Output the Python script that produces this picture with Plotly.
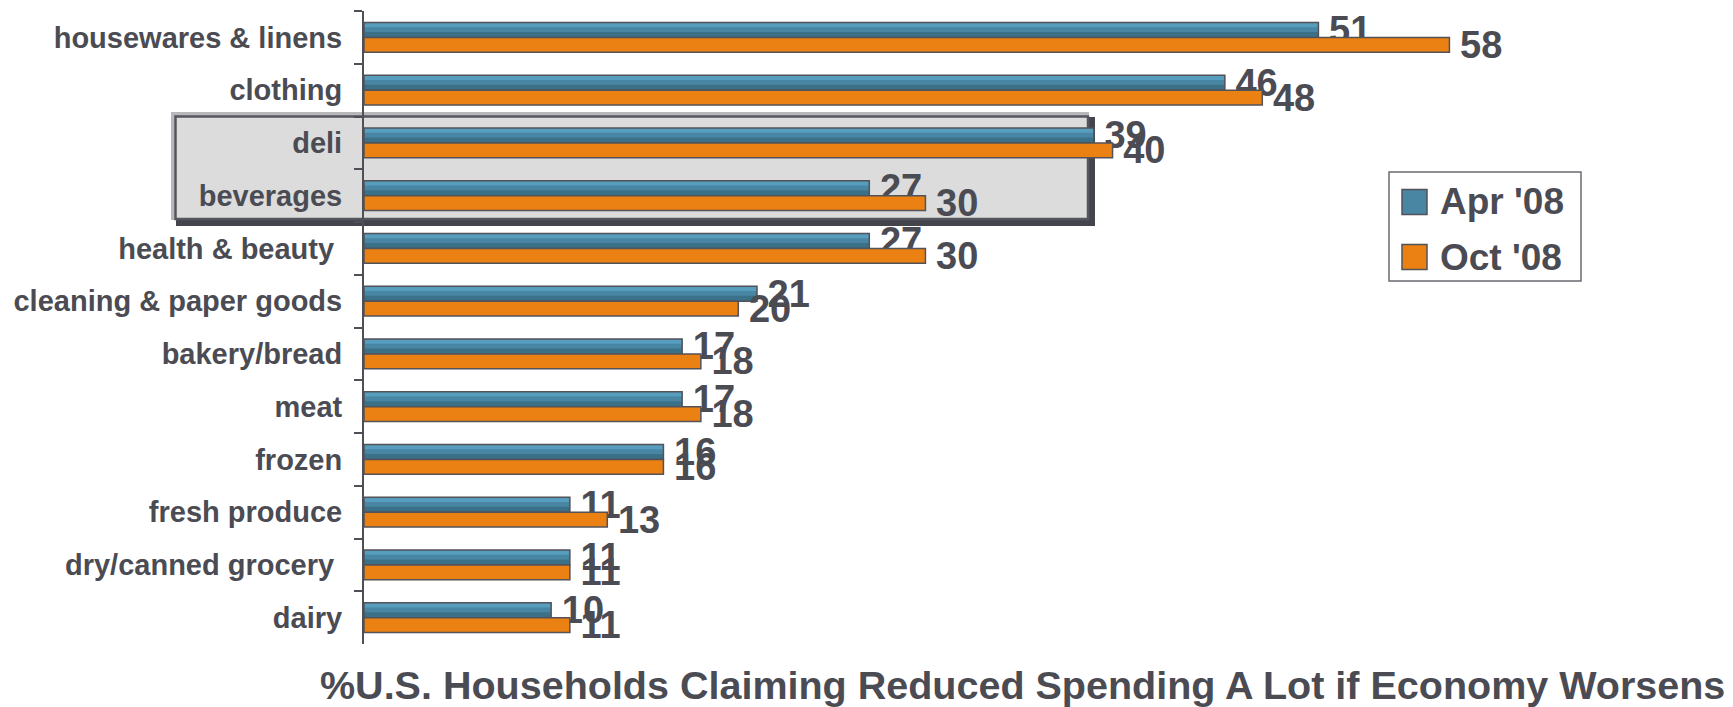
import plotly.graph_objects as go

# ---------------- data ----------------
categories = [
    "housewares & linens", "clothing", "deli", "beverages",
    "health & beauty\u00a0", "cleaning & paper goods", "bakery/bread", "meat",
    "frozen", "fresh produce", "dry/canned grocery\u00a0", "dairy",
]
series_names = ["Apr '08", "Oct '08"]
apr_08 = [51, 46, 39, 27, 27, 21, 17, 17, 16, 11, 11, 10]
oct_08 = [58, 48, 40, 30, 30, 20, 18, 18, 16, 13, 11, 11]
title_text = "%U.S. Households Claiming Reduced Spending A Lot if Economy Worsens"

# ---------------- styling ----------------
W, H = 1733, 707
L, T, PW, PH = 364, 11, 1310, 633
FONT = "Liberation Sans, Arial, sans-serif"
TXT = "#4b4b53"
OUTLINE = "#525259"
ORANGE = "#ec8113"
BLUE_DARK = "#3b7089"
BLUE_MID = "#4886a3"
BLUE_LIGHT = "#579dbe"
BW = 0.28  # bar thickness in category units


def xp(px):
    return (px - L) / PW


def yp(py):
    return (T + PH - py) / PH


fig = go.Figure()

common = dict(y=categories, orientation="h", hoverinfo="skip", showlegend=False)
label_font = dict(family=FONT, size=38, color=TXT, weight="bold")

# Apr '08 : banded to suggest the gradient
fig.add_trace(go.Bar(x=apr_08, offset=-BW, width=BW,
                     marker=dict(color=BLUE_DARK, line=dict(width=0)), **common))
fig.add_trace(go.Bar(x=apr_08, offset=-BW + 0.005, width=BW * 0.62,
                     marker=dict(color=BLUE_MID, line=dict(width=0)), **common))
fig.add_trace(go.Bar(x=apr_08, offset=-BW + 0.005, width=BW * 0.3,
                     marker=dict(color=BLUE_LIGHT, line=dict(width=0)), **common))
fig.add_trace(go.Bar(x=apr_08, offset=-BW, width=BW, name=series_names[0],
                     marker=dict(color="rgba(0,0,0,0)", line=dict(color=OUTLINE, width=1.5)),
                     texttemplate="\u2009%{x}", textposition="outside",
                     constraintext="none", cliponaxis=False,
                     textfont=label_font, **common))
# Oct '08
fig.add_trace(go.Bar(x=oct_08, offset=0, width=BW, name=series_names[1],
                     marker=dict(color=ORANGE, line=dict(color=OUTLINE, width=1.5)),
                     texttemplate="\u2009%{x}", textposition="outside",
                     constraintext="none", cliponaxis=False,
                     textfont=label_font, **common))

shapes = []
# highlight box around deli / beverages
shapes.append(dict(type="rect", xref="paper", yref="paper", layer="below",
                   x0=xp(176), x1=xp(1095), y0=yp(226), y1=yp(117),
                   fillcolor="#44444c", line=dict(width=0)))
shapes.append(dict(type="rect", xref="paper", yref="paper", layer="below",
                   x0=xp(171), x1=xp(1089), y0=yp(220), y1=yp(112),
                   fillcolor="#b8b8bc", line=dict(width=0)))
shapes.append(dict(type="rect", xref="paper", yref="paper", layer="below",
                   x0=xp(175.5), x1=xp(1088), y0=yp(219), y1=yp(116.5),
                   fillcolor="#dcdcdc", line=dict(color="#55555d", width=2.5)))

# custom legend
shapes.append(dict(type="rect", xref="paper", yref="paper",
                   x0=xp(1389), x1=xp(1581), y0=yp(281), y1=yp(172),
                   fillcolor="white", line=dict(color="#6a6a70", width=1.5)))
legend_colors = [BLUE_MID, ORANGE]
legend_centers = [202, 257]
annotations = []
for name, col, cy in zip(series_names, legend_colors, legend_centers):
    shapes.append(dict(type="rect", xref="paper", yref="paper",
                       x0=xp(1402), x1=xp(1427), y0=yp(cy + 12.5), y1=yp(cy - 12.5),
                       fillcolor=col, line=dict(color=OUTLINE, width=1.5)))
    annotations.append(dict(xref="paper", yref="paper", x=xp(1438), y=yp(cy),
                            xanchor="left", yanchor="middle", showarrow=False,
                            text=name, font=dict(family=FONT, size=37, color=TXT, weight="bold")))

annotations.append(dict(xref="paper", yref="paper", x=xp(1022), y=yp(685),
                        xanchor="center", yanchor="middle", showarrow=False,
                        text=title_text,
                        font=dict(family=FONT, size=39.5, color=TXT, weight="bold")))

fig.update_layout(
    width=W, height=H,
    margin=dict(l=L, r=W - L - PW, t=T, b=H - T - PH, pad=0, autoexpand=False),
    paper_bgcolor="white", plot_bgcolor="rgba(0,0,0,0)",
    barmode="overlay", showlegend=False,
    shapes=shapes, annotations=annotations,
    font=dict(family=FONT, color=TXT),
)
fig.update_xaxes(range=[0, 70], showgrid=False, zeroline=False, automargin=False,
                 showticklabels=False, showline=False, ticks="")
fig.update_yaxes(type="category", categoryorder="array", categoryarray=categories,
                 range=[len(categories) - 0.5, -0.5], automargin=False,
                 showgrid=False, zeroline=False, showline=True,
                 linecolor="#4f4f57", linewidth=2,
                 ticks="outside", ticklen=8, tickwidth=1.5, tickcolor="#4f4f57",
                 tickson="boundaries", ticklabelstandoff=14,
                 tickfont=dict(family=FONT, size=29, color=TXT, weight="bold"))

fig.write_html(
    "out.html",
    config={"displayModeBar": False},
    post_script="document.body.style.margin='0px';document.body.style.overflow='hidden';",
)
